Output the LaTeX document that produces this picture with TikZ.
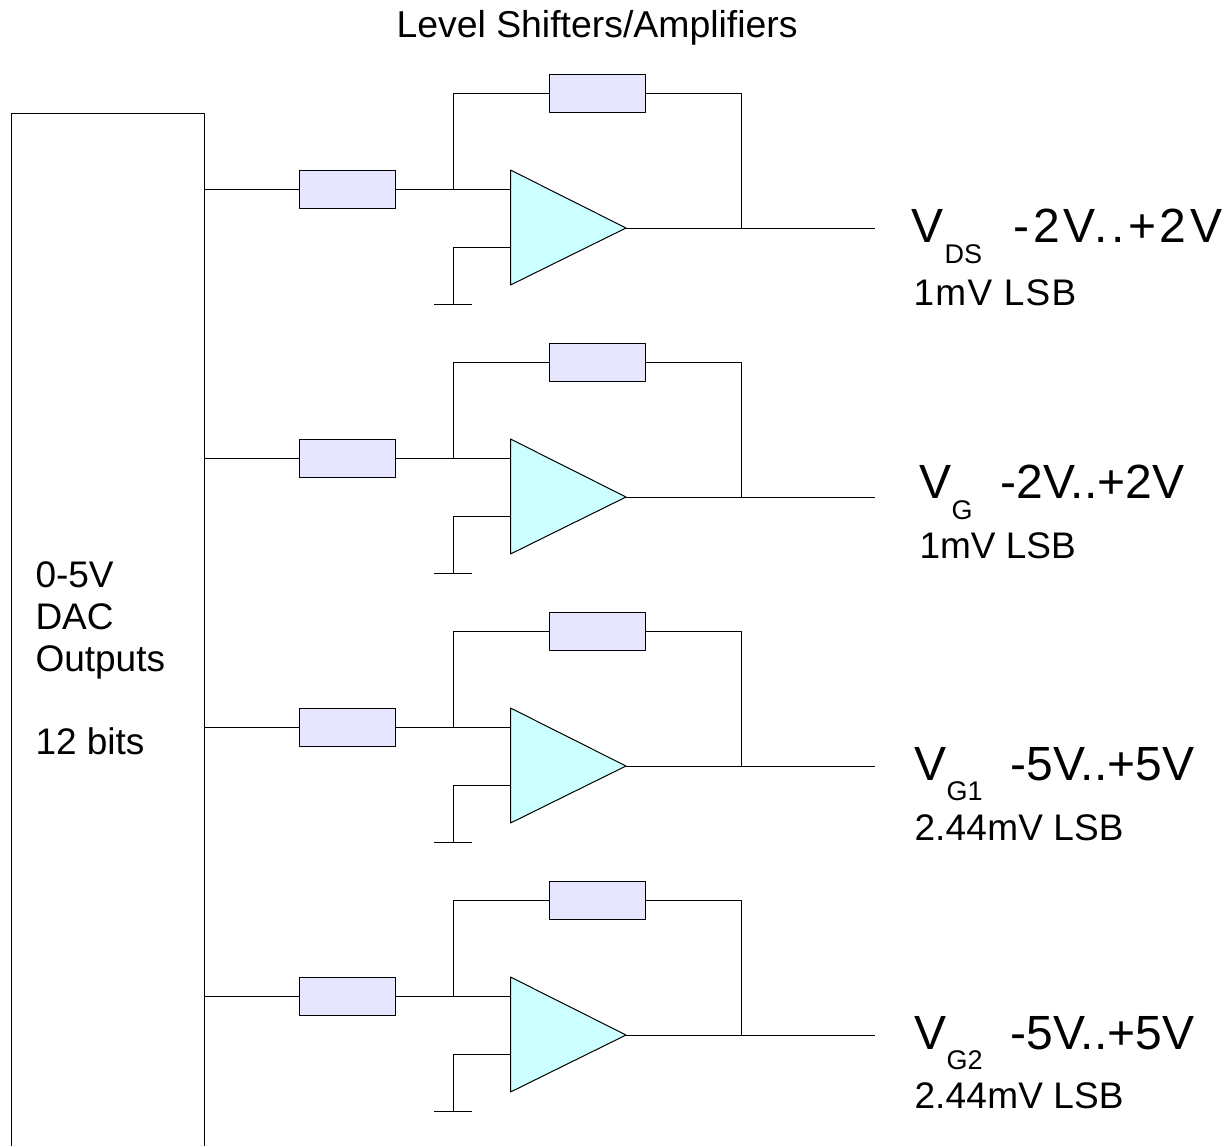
\documentclass[tikz,border=0pt]{standalone}
\usepackage{fontspec}
\setmainfont{Liberation Sans}
\definecolor{resfill}{HTML}{E6E6FF}
\definecolor{ampfill}{HTML}{CCFFFF}
\begin{document}
\begin{tikzpicture}[x=1pt,y=-1pt,line join=round,line width=1pt,
	res/.style={draw,fill=resfill,minimum width=96pt,minimum height=38pt,inner sep=0pt},
	txt/.style={inner sep=0pt,anchor=base west}]
		\useasboundingbox (0,0) rectangle (1228,1146);
		\path (11.5,1146)coordinate (BL)
		(11.5,113)coordinate (TL)
		(204,113)coordinate (TR)
		(204,1146)coordinate (BR);
		\draw (BL)--(TL)--(TR)--(BR);
		\node[txt,font=\fontsize{37}{42}\selectfont,align=left] (dac) at (35,754) {0-5V\\DAC\\Outputs\\[41pt]12 bits};
		\node[txt,font=\fontsize{37.4}{40}\selectfont] (title) at (396,37) {Level Shifters/Amplifiers};
		\foreach \n/\d in {1/0,2/269,3/538,4/807}{
			\begin{scope}[yshift=-\d pt]
			\path (204,189)coordinate (tap\n)
			(453,189)coordinate (J\n)
			(453,93)coordinate (JT\n)
			(510.5,189)coordinate (P\n)
			(510.5,247)coordinate (M\n)
			(453,247)coordinate (GT\n)
			(453,304)coordinate (G\n)
			(434,304)coordinate (GL\n)
			(472,304)coordinate (GR\n)
			(510.5,170)coordinate (A\n)
			(510.5,285)coordinate (B\n)
			(626,228)coordinate (C\n)
			(741.5,228)coordinate (K\n)
			(741.5,93)coordinate (KT\n)
			(875,228)coordinate (out\n);
			\node[res] (Ri\n) at (347.5,189) {};
			\node[res] (Rf\n) at (597.5,93) {};
			\draw[fill=ampfill] (A\n)--(C\n)--(B\n)--cycle;
			\draw (tap\n)--(Ri\n)--(P\n);
			\draw (J\n)--(JT\n)--(Rf\n)--(KT\n)--(K\n);
			\draw (C\n)--(out\n);
			\draw (M\n)--(GT\n)--(G\n);
			\draw (GL\n)--(GR\n);
			\end{scope}
		}
		% output labels
		\foreach \n/\vx/\vy/\sx/\sy/\sub/\rx/\rng/\rs/\lx/\ly/\lsb/\ls in {
			DS/911/242/944/263/DS/1013/-2V..+2V/7.4/913/305/1mV LSB/3.6,
			G/919/498/951/519/G/1000/-2V..+2V/0/919/558/1mV LSB/0,
			GA/914/780/946/800/G1/1010/-5V..+5V/0/914/840/2.44mV LSB/0.5,
			GB/914/1049/946/1069/G2/1010/-5V..+5V/0/914/1108/2.44mV LSB/0.5}{
			\node[txt,font=\fontsize{48}{48}\selectfont] (V\n) at (\vx,\vy) {V};
			\node[txt,font=\fontsize{27}{27}\selectfont] (sub\n) at (\sx,\sy) {\sub};
			\node[txt,font=\fontsize{48}{48}\selectfont\addfontfeature{LetterSpace=\rs}] (rng\n) at (\rx,\vy) {\rng};
			\node[txt,font=\fontsize{37}{37}\selectfont\addfontfeature{LetterSpace=\ls}] (lsb\n) at (\lx,\ly) {\lsb};
		}
		\end{tikzpicture}
\end{document}
